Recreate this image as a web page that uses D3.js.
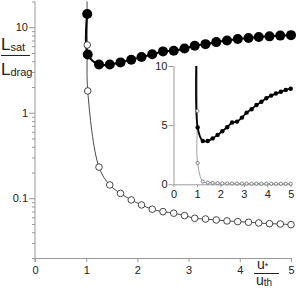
<!DOCTYPE html>
<html>
<head>
<meta charset="utf-8">
<script src="https://cdn.jsdelivr.net/npm/d3@7/dist/d3.min.js"></script>
<style>
  html, body { margin: 0; padding: 0; background: #fff; }
  svg { display: block; font-family: "Liberation Sans", Arial, sans-serif; }
</style>
</head>
<body>
<svg id="chart" width="296" height="294"></svg>
<script>
// u*/uth values (shared by both series)
const ratioX = [1.02, 1.03, 1.25, 1.46, 1.67, 1.88, 2.08, 2.29, 2.50, 2.71, 2.92,
    3.12, 3.33, 3.54, 3.75, 3.96, 4.17, 4.37, 4.58, 4.79, 5.00];
// Lsat/Ldrag, filled markers
const satValues = [14.3, 4.8, 3.66, 3.66, 3.88, 4.17, 4.48, 4.82, 5.22, 5.30, 5.64,
    6.06, 6.34, 6.70, 6.98, 7.27, 7.50, 7.67, 7.82, 7.98, 8.08];
// open markers
const dragValues = [6.2, 1.8, 0.231, 0.143, 0.114, 0.0955, 0.0835, 0.0744, 0.0697, 0.0668, 0.0626,
    0.0583, 0.0572, 0.0557, 0.0543, 0.0533, 0.0524, 0.0514, 0.0504, 0.0500, 0.0491];
// thin curve runs off the top near u*/uth = 1
const dragLineStart = { x: 1.015, y: 60 };

const xTicks = [0, 1, 2, 3, 4, 5];
const yMajor = [0.1, 1, 10];
const insetXTicks = [0, 1, 2, 3, 4, 5];
const insetYTicks = [0, 5, 10];

const AXIS_COLOR = '#9a9a9a';
const TEXT_COLOR = '#222';

const svg = d3.select('#chart');

// ---------- main (log) panel ----------
const x = d3.scaleLinear().domain([0, 5]).range([35, 291]);
const y = d3.scaleLog().domain([0.02, 20]).range([258, 1.5]);

svg.append('defs').append('clipPath').attr('id', 'clipMain')
    .append('rect').attr('x', 30).attr('y', y(20)).attr('width', 266).attr('height', y(0.02) - y(20));

const isMajor = v => yMajor.some(m => Math.abs(m - v) < 1e-9);

const yAxis = d3.axisLeft(y)
    .tickValues(y.ticks())
    .tickFormat(v => isMajor(v) ? (v < 1 ? '0.1' : String(v)) : '')
    .tickSizeOuter(0);
const gy = svg.append('g').attr('transform', `translate(${x(0)},0)`).call(yAxis);
gy.selectAll('.tick line').attr('x2', d => isMajor(d) ? -6 : -3);
gy.selectAll('.tick text').attr('x', -7);

const xAxis = d3.axisBottom(x).tickValues(xTicks).tickFormat(d3.format('d')).tickSizeOuter(0).tickSize(4);
const gx = svg.append('g').attr('transform', `translate(0,${y(0.02)})`).call(xAxis);
gx.selectAll('.tick text').attr('y', 8);

[gx, gy].forEach(g => {
    g.select('.domain').attr('stroke', AXIS_COLOR);
    g.selectAll('.tick line').attr('stroke', AXIS_COLOR);
    g.selectAll('.tick text').attr('fill', TEXT_COLOR).attr('font-size', 11)
        .attr('font-family', '"Liberation Sans", Arial, sans-serif');
});
// extend the y axis line a little below the x axis
gy.select('.domain').attr('d', `M0,${y(20)}V${y(0.02) + 4}`);

const satPts = ratioX.map((v, i) => ({ x: v, y: satValues[i] }));
const dragPts = ratioX.map((v, i) => ({ x: v, y: dragValues[i] }));

const lineMain = d3.line().x(d => x(d.x)).y(d => y(d.y)).curve(d3.curveCatmullRom.alpha(0.5));

const plot = svg.append('g').attr('clip-path', 'url(#clipMain)');
plot.append('path')
    .attr('d', lineMain([dragLineStart].concat(dragPts)))
    .attr('fill', 'none').attr('stroke', '#333').attr('stroke-width', 0.9);
plot.append('path')
    .attr('d', lineMain(satPts))
    .attr('fill', 'none').attr('stroke', '#000').attr('stroke-width', 2);

plot.selectAll('circle.drag').data(dragPts).join('circle')
    .attr('class', 'drag')
    .attr('cx', d => x(d.x)).attr('cy', d => y(d.y)).attr('r', 3.3)
    .attr('fill', '#fff').attr('stroke', '#333').attr('stroke-width', 0.9);
plot.selectAll('circle.sat').data(satPts).join('circle')
    .attr('class', 'sat')
    .attr('cx', d => x(d.x)).attr('cy', d => y(d.y)).attr('r', 5)
    .attr('fill', '#000');

// y label: Lsat / Ldrag
const yl = svg.append('g').attr('fill', TEXT_COLOR);
yl.append('text').attr('x', 1).attr('y', 50).attr('font-size', 17)
    .text('L').append('tspan').attr('font-size', 11).attr('dy', 1).text('sat');
yl.append('line').attr('x1', 1).attr('x2', 30).attr('y1', 55.5).attr('y2', 55.5)
    .attr('stroke', TEXT_COLOR).attr('stroke-width', 1);
yl.append('text').attr('x', 1).attr('y', 75).attr('font-size', 17)
    .text('L').append('tspan').attr('font-size', 11).attr('dy', 1).text('drag');

// x label: u* / uth
const xl = svg.append('g').attr('fill', TEXT_COLOR);
xl.append('text').attr('x', 257).attr('y', 269).attr('font-size', 14)
    .text('u').append('tspan').attr('font-size', 9).attr('dy', 0).text('*');
xl.append('line').attr('x1', 254).attr('x2', 279).attr('y1', 273.5).attr('y2', 273.5)
    .attr('stroke', TEXT_COLOR).attr('stroke-width', 1);
xl.append('text').attr('x', 256).attr('y', 285).attr('font-size', 14)
    .text('u').append('tspan').attr('font-size', 10).attr('dy', 1).text('th');

// ---------- inset (linear) panel ----------
const xi = d3.scaleLinear().domain([0, 5]).range([173.5, 290.7]);
const yi = d3.scaleLinear().domain([0, 10]).range([184.3, 66]);

svg.select('defs').append('clipPath').attr('id', 'clipInset')
    .append('rect').attr('x', 170).attr('y', yi(10)).attr('width', 126).attr('height', yi(0) - yi(10) + 3);

const giy = svg.append('g').attr('transform', `translate(${xi(0)},0)`)
    .call(d3.axisLeft(yi).tickValues(insetYTicks).tickFormat(d3.format('d')).tickSize(5).tickSizeOuter(0));
const gix = svg.append('g').attr('transform', `translate(0,${yi(0)})`)
    .call(d3.axisBottom(xi).tickValues(insetXTicks).tickFormat(d3.format('d')).tickSize(3).tickSizeOuter(0));
gix.selectAll('.tick text').attr('y', 6);
giy.selectAll('.tick text').attr('x', -6);
[gix, giy].forEach(g => {
    g.select('.domain').attr('stroke', AXIS_COLOR);
    g.selectAll('.tick line').attr('stroke', AXIS_COLOR);
    g.selectAll('.tick text').attr('fill', TEXT_COLOR).attr('font-size', 11)
        .attr('font-family', '"Liberation Sans", Arial, sans-serif');
});

const lineInset = d3.line().x(d => xi(d.x)).y(d => yi(d.y)).curve(d3.curveCatmullRom.alpha(0.5));
const inset = svg.append('g').attr('clip-path', 'url(#clipInset)');
inset.append('path')
    .attr('d', lineInset([dragLineStart].concat(dragPts)))
    .attr('fill', 'none').attr('stroke', '#888').attr('stroke-width', 0.8);
inset.append('path')
    .attr('d', lineInset(satPts))
    .attr('fill', 'none').attr('stroke', '#000').attr('stroke-width', 1.8);
inset.selectAll('circle.drag').data(dragPts).join('circle')
    .attr('class', 'drag')
    .attr('cx', d => xi(d.x)).attr('cy', d => yi(d.y)).attr('r', 1.6)
    .attr('fill', '#fff').attr('stroke', '#666').attr('stroke-width', 0.8);
inset.selectAll('circle.sat').data(satPts).join('circle')
    .attr('class', 'sat')
    .attr('cx', d => xi(d.x)).attr('cy', d => yi(d.y)).attr('r', 2.2)
    .attr('fill', '#000');
</script>
</body>
</html>
